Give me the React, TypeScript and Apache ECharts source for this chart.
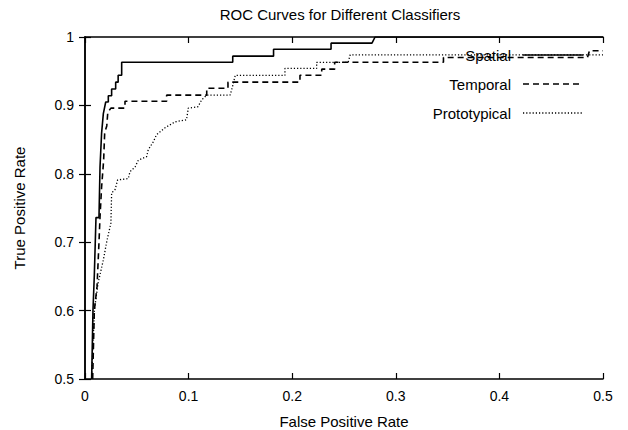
import React, { useEffect, useRef } from "react";
import * as echarts from "echarts";

const seriesNames = ["Spatial", "Temporal", "Prototypical"];

const spatial: [number, number][] = [
  [0.0064, 0.5], [0.0077, 0.6], [0.009, 0.652], [0.0106, 0.736], [0.0135, 0.736],
  [0.0145, 0.81], [0.016, 0.859], [0.0177, 0.888], [0.02, 0.905], [0.0225, 0.905],
  [0.0225, 0.914], [0.0257, 0.914], [0.0257, 0.924], [0.0296, 0.924], [0.0296, 0.934],
  [0.032, 0.934], [0.032, 0.944], [0.0354, 0.944], [0.0354, 0.963], [0.1426, 0.963],
  [0.1426, 0.972], [0.182, 0.972], [0.182, 0.982], [0.2375, 0.982], [0.2375, 0.991],
  [0.277, 0.991], [0.28, 1.0], [0.5, 1.0],
];

const temporal: [number, number][] = [
  [0.0074, 0.5], [0.009, 0.6], [0.0116, 0.635], [0.0135, 0.7], [0.0145, 0.737],
  [0.016, 0.78], [0.018, 0.82], [0.019, 0.86], [0.021, 0.87], [0.022, 0.89],
  [0.025, 0.896], [0.0386, 0.896], [0.0386, 0.906], [0.0788, 0.906], [0.0788, 0.915],
  [0.1175, 0.915], [0.1175, 0.925], [0.138, 0.925], [0.138, 0.934], [0.2075, 0.934],
  [0.2075, 0.944], [0.2285, 0.944], [0.2285, 0.953], [0.241, 0.953], [0.241, 0.963],
  [0.346, 0.963], [0.346, 0.97], [0.485, 0.97], [0.487, 0.98], [0.5, 0.98],
];

const prototypical: [number, number][] = [
  [0.0064, 0.5], [0.009, 0.6], [0.0126, 0.64], [0.0177, 0.674], [0.021, 0.701],
  [0.025, 0.728], [0.0257, 0.772], [0.029, 0.777], [0.0315, 0.791], [0.0418, 0.793],
  [0.0434, 0.803], [0.0483, 0.81], [0.0515, 0.82], [0.0595, 0.825], [0.061, 0.835],
  [0.066, 0.847], [0.069, 0.857], [0.077, 0.867], [0.087, 0.876], [0.098, 0.879],
  [0.0997, 0.896], [0.109, 0.898], [0.1126, 0.908], [0.1174, 0.915], [0.14, 0.915],
  [0.142, 0.925], [0.145, 0.944], [0.193, 0.944], [0.193, 0.954], [0.2236, 0.954],
  [0.2236, 0.963], [0.254, 0.963], [0.256, 0.974], [0.5, 0.974],
];

const xTicks = [0, 0.1, 0.2, 0.3, 0.4, 0.5];
const yTicks = [0.5, 0.6, 0.7, 0.8, 0.9, 1];

const titleText = "ROC Curves for Different Classifiers";
const xName = "False Positive Rate";
const yName = "True Positive Rate";

const FONT = "Liberation Sans, Arial, Helvetica, sans-serif";
const W = 628;
const H = 430;
const G = { left: 85, right: 25, top: 37, bottom: 51 };

const fmt = (v: number) => String(Number(v.toFixed(1)));

export default function App() {
  const ref = useRef<HTMLDivElement>(null);
  useEffect(() => {
    if (!ref.current) return;
    const chart = echarts.init(ref.current, undefined, { renderer: "svg" });
    const plotW = W - G.left - G.right;
    const plotH = H - G.top - G.bottom;
    const cx = G.left + plotW / 2;
    const cy = G.top + plotH / 2;
    const dashes = [null, [6, 4], [1.2, 2]];
    const legendRows = [55, 84, 113];
    const legendGraphics: any[] = [];
    seriesNames.forEach((n, i) => {
      legendGraphics.push({
        type: "text",
        x: 511,
        y: legendRows[i],
        style: { text: n, font: `15px ${FONT}`, fill: "#000", align: "right", verticalAlign: "middle" },
        z: 1,
      });
      legendGraphics.push({
        type: "line",
        shape: { x1: 523, y1: legendRows[i], x2: 583, y2: legendRows[i] },
        style: { stroke: "#000", lineWidth: 1.5, lineDash: dashes[i] || undefined },
        z: 100,
      });
    });
    const axisCommon = {
      type: "value" as const,
      interval: 0.1,
      splitLine: { show: false },
      axisLine: { show: true, lineStyle: { color: "#000", width: 1.5 } },
      axisTick: { show: true, inside: true, length: 6, lineStyle: { color: "#000", width: 1.2 } },
    };
    chart.setOption({
      animation: false,
      backgroundColor: "#fff",
      grid: { ...G, containLabel: false },
      xAxis: [
        {
          ...axisCommon,
          min: xTicks[0],
          max: xTicks[xTicks.length - 1],
          position: "bottom",
          axisLabel: { show: true, color: "#000", fontSize: 14, fontFamily: FONT, margin: 10, formatter: fmt },
        },
        {
          ...axisCommon,
          min: xTicks[0],
          max: xTicks[xTicks.length - 1],
          position: "top",
          axisLabel: { show: false },
        },
      ],
      yAxis: [
        {
          ...axisCommon,
          min: yTicks[0],
          max: yTicks[yTicks.length - 1],
          position: "left",
          axisLabel: { show: true, color: "#000", fontSize: 14, fontFamily: FONT, margin: 11, formatter: fmt },
        },
        {
          ...axisCommon,
          min: yTicks[0],
          max: yTicks[yTicks.length - 1],
          position: "right",
          axisLabel: { show: false },
        },
      ],
      series: [
        {
          name: seriesNames[0],
          type: "line",
          data: spatial,
          showSymbol: false,
          symbol: "none",
          lineStyle: { color: "#000", width: 1.6, type: "solid" },
          z: 3,
        },
        {
          name: seriesNames[1],
          type: "line",
          data: temporal,
          showSymbol: false,
          symbol: "none",
          lineStyle: { color: "#000", width: 1.6, type: [6, 4] },
          z: 3,
        },
        {
          name: seriesNames[2],
          type: "line",
          data: prototypical,
          showSymbol: false,
          symbol: "none",
          lineStyle: { color: "#000", width: 1.3, type: [1.2, 2] },
          z: 3,
        },
      ],
      graphic: [
        {
          type: "text",
          x: cx - 4,
          y: 14,
          style: { text: titleText, font: `15px ${FONT}`, fill: "#000", align: "center", verticalAlign: "middle" },
        },
        {
          type: "text",
          x: cx,
          y: 421,
          style: { text: xName, font: `15px ${FONT}`, fill: "#000", align: "center", verticalAlign: "middle" },
        },
        {
          type: "text",
          x: 19,
          y: cy,
          rotation: Math.PI / 2,
          style: { text: yName, font: `15px ${FONT}`, fill: "#000", align: "center", verticalAlign: "middle" },
        },
        ...legendGraphics,
      ],
    });
    return () => chart.dispose();
  }, []);
  return <div ref={ref} style={{ position: "fixed", left: 0, top: 0, width: W, height: H }} />;
}
